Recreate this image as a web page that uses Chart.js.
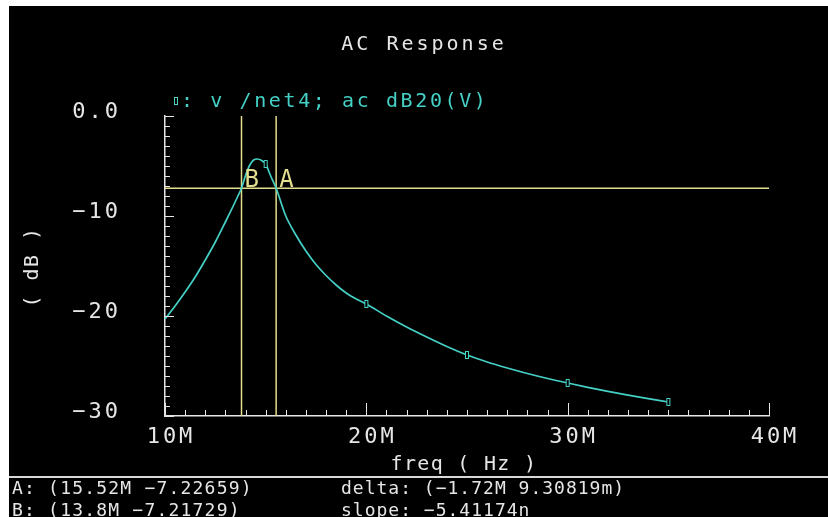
<!DOCTYPE html>
<html><head><meta charset="utf-8">
<script src="https://cdn.jsdelivr.net/npm/chart.js@4/dist/chart.umd.min.js"></script>
<style>html,body{margin:0;padding:0;background:#fff;overflow:hidden}#wrap{position:absolute;left:0;top:0;width:828px;height:517px}</style>
</head><body><div id="wrap"><canvas id="c" width="828" height="517"></canvas></div>
<script>
// ---- data ----
const freqMHz = [10, 10.5, 11, 11.5, 12, 12.5, 13, 13.4, 13.6, 13.8, 14.0, 14.2, 14.4, 14.6, 14.8, 15, 15.25, 15.52, 16, 16.5, 17, 17.5, 18, 18.5, 19, 19.5, 20, 21, 22, 23, 24, 25, 26, 27, 28, 29, 30, 31, 32, 33, 34, 35];
const gainDb  = [-20.3, -19.0, -17.6, -16.1, -14.4, -12.6, -10.6, -8.95, -8.1, -7.22, -5.95, -4.95, -4.4, -4.3, -4.45, -4.8, -6.0, -7.23, -10.0, -11.9, -13.5, -14.85, -15.95, -16.9, -17.7, -18.3, -18.8, -20.0, -21.1, -22.1, -23.05, -23.9, -24.6, -25.2, -25.75, -26.25, -26.7, -27.13, -27.53, -27.91, -28.27, -28.6];
const markerFreqMHz = [15, 20, 25, 30, 35];
const cursorNames = ['A', 'B'];
const cursorFreqMHz = [15.52, 13.8];
const cursorDb = [-7.22659, -7.21729];
const xTickValues = [10, 20, 30, 40];
const yTickValues = [-30, -20, -10, 0];
const titleText = 'AC Response';
const legendText = ': v /net4; ac dB20(V)';
const xTitleText = 'freq ( Hz )';
const yTitleText = '( dB )';
const readoutLeft = ['A: (15.52M \u22127.22659)', 'B: (13.8M \u22127.21729)'];
const readoutRight = ['delta: (\u22121.72M 9.30819m)', 'slope: \u22125.41174n'];

// ---- styles ----
const CYAN = '#45d0c6';
const YELLOW = '#e4df8e';
const WHITE = '#e6e6e6';
const MONO = '"DejaVu Sans Mono", "Liberation Mono", monospace';

const xMin = xTickValues[0], xMax = xTickValues[xTickValues.length - 1];
const yMin = yTickValues[0], yMax = yTickValues[yTickValues.length - 1];

// marker glyph
const marker = document.createElement('canvas');
marker.width = 6; marker.height = 10;
(function(){ const m = marker.getContext('2d'); m.fillStyle = '#000'; m.fillRect(1,1,4,8); m.strokeStyle = CYAN; m.lineWidth = 1; m.strokeRect(1.5,1.5,3,7); })();

const curve = freqMHz.map((f, i) => ({x: f, y: gainDb[i]}));
const datasets = [{
  data: curve,
  borderColor: CYAN, borderWidth: 1.7,
  cubicInterpolationMode: 'monotone',
  pointStyle: marker,
  pointRadius: freqMHz.map(f => markerFreqMHz.includes(f) ? 4 : 0),
  pointHoverRadius: 0,
  clip: 4
}];
cursorFreqMHz.forEach(f => datasets.push({
  data: [{x: f, y: yMin}, {x: f, y: yMax}],
  borderColor: YELLOW, borderWidth: 1.5, pointRadius: 0
}));
datasets.push({
  data: [{x: xMin, y: cursorDb[0]}, {x: xMax, y: cursorDb[0]}],
  borderColor: YELLOW, borderWidth: 1.5, pointRadius: 0
});

function txt(ctx, s, x, y, size, color, ls, align, base) {
  ctx.save();
  ctx.font = size + 'px ' + MONO;
  ctx.letterSpacing = ls + 'px';
  ctx.fillStyle = color;
  ctx.textAlign = align || 'left';
  ctx.textBaseline = base || 'alphabetic';
  ctx.fillText(s, x, y);
  ctx.restore();
}

const cadence = {
  id: 'cadence',
  beforeDraw(chart) {
    const ctx = chart.ctx;
    ctx.save();
    ctx.fillStyle = '#fff'; ctx.fillRect(0, 0, 828, 517);
    ctx.fillStyle = '#000'; ctx.fillRect(9, 6, 819, 511);
    ctx.restore();
    ctx.letterSpacing = '3px';
  },
  afterDraw(chart) {
    const ctx = chart.ctx;
    ctx.letterSpacing = '0px';
    const xs = chart.scales.x, ys = chart.scales.y, a = chart.chartArea;
    // inward ticks
    ctx.save();
    ctx.strokeStyle = WHITE; ctx.lineWidth = 1;
    ctx.beginPath();
    for (let v = yMin; v <= yMax; v++) {
      const y = Math.round(ys.getPixelForValue(v)) + 0.5;
      const len = (v % 10 === 0) ? 9 : 5;
      ctx.moveTo(a.left, y); ctx.lineTo(a.left + len, y);
    }
    for (let v = xMin; v <= xMax; v++) {
      const x = Math.round(xs.getPixelForValue(v)) + 0.5;
      const len = (v % 10 === 0) ? 13 : 6;
      ctx.moveTo(x, a.bottom); ctx.lineTo(x, a.bottom - len);
    }
    ctx.stroke();
    ctx.restore();
    // cursor labels
    cursorNames.forEach((n, i) => {
      txt(ctx, n, xs.getPixelForValue(cursorFreqMHz[i]) + 3, ys.getPixelForValue(cursorDb[0]) - 1, 24, YELLOW, 0, 'left');
    });
    // title
    txt(ctx, titleText, 424, 50, 20, WHITE, 3, 'center');
    // legend
    ctx.drawImage(marker, 173, 96);
    txt(ctx, legendText, 181, 107, 20, CYAN, 2.6, 'left');
    // axis titles
    txt(ctx, xTitleText, 464, 470, 20, WHITE, 1.3, 'center');
    ctx.save();
    ctx.translate(38, 267); ctx.rotate(-Math.PI / 2);
    txt(ctx, yTitleText, 0, 0, 20, WHITE, 1.5, 'center');
    ctx.restore();
    // separator
    ctx.save(); ctx.fillStyle = '#d8d8d8'; ctx.fillRect(9, 476, 819, 2); ctx.restore();
    // readouts
    readoutLeft.forEach((s, i) => txt(ctx, s, 12, 494 + i * 22, 18, WHITE, 1.2, 'left'));
    readoutRight.forEach((s, i) => txt(ctx, s, 341, 494 + i * 22, 18, WHITE, 1.0, 'left'));
  }
};

new Chart(document.getElementById('c'), {
  type: 'line',
  data: {datasets},
  plugins: [cadence],
  options: {
    responsive: false, animation: false, devicePixelRatio: 1,
    events: [],
    layout: {padding: {left: 0, top: 116, right: 59, bottom: 0}},
    plugins: {legend: {display: false}, title: {display: false}, tooltip: {enabled: false}},
    elements: {line: {tension: 0}},
    scales: {
      x: {
        type: 'linear', min: xMin, max: xMax,
        afterFit: s => { s.height = 101; },
        afterBuildTicks: s => { s.ticks = xTickValues.map(v => ({value: v})); },
        grid: {display: false, drawTicks: false},
        border: {display: true, color: WHITE, width: 1.5},
        ticks: {color: WHITE, font: {family: MONO, size: 22, lineHeight: 1}, padding: 10, labelOffset: 6, maxRotation: 0,
          callback: v => v + 'M'}
      },
      y: {
        type: 'linear', min: yMin, max: yMax,
        afterFit: s => { s.width = 165; },
        afterBuildTicks: s => { s.ticks = yTickValues.map(v => ({value: v})); },
        grid: {display: false, drawTicks: false},
        border: {display: true, color: WHITE, width: 1.5},
        ticks: {color: WHITE, font: {family: MONO, size: 22, lineHeight: 1}, padding: 44, labelOffset: -4,
          callback: v => v === 0 ? '0.0' : '\u2212' + Math.abs(v)}
      }
    }
  }
});
</script></body></html>
